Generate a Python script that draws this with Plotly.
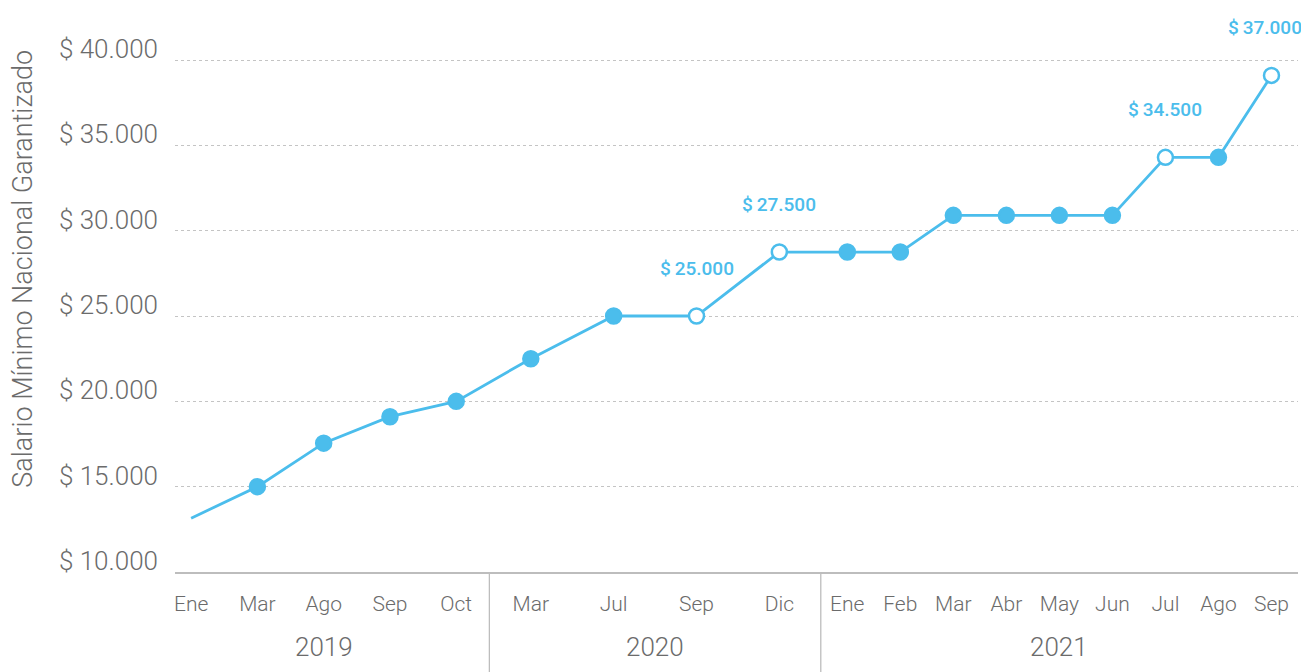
import plotly.graph_objects as go

# ---- data ----
months = ["Ene", "Mar", "Ago", "Sep", "Oct",
          "Mar", "Jul", "Sep", "Dic",
          "Ene", "Feb", "Mar", "Abr", "May", "Jun", "Jul", "Ago", "Sep"]
years = [2019] * 5 + [2020] * 4 + [2021] * 9
values = [13150, 15000, 17550, 19100, 20000,
          22500, 25000, 25000, 28750,
          28750, 28750, 30900, 30900, 30900, 30900, 34300, 34300, 39100]
# point style: "none", "filled", "open"
point_style = ["none", "filled", "filled", "filled", "filled",
               "filled", "filled", "open", "open",
               "filled", "filled", "filled", "filled", "filled", "filled", "open", "filled", "open"]
value_labels = {7: "$\u200925.000", 8: "$\u200927.500", 15: "$\u200934.500", 17: "$\u200937.000"}
year_list = [2019, 2020, 2021]
ytick_vals = [10000, 15000, 20000, 25000, 30000, 35000, 40000]
ytick_text = ["$ 10.000", "$ 15.000", "$ 20.000", "$ 25.000",
              "$ 30.000", "$ 35.000", "$ 40.000"]

# ---- layout constants ----
GROUP_WIDTH = {2019: 5.0, 2020: 5.0, 2021: 7.2}
BLUE = "#4BBDEC"
GREY = "#6b6b6b"
FONT = "Roboto"

# x positions: categories evenly spaced inside each year group
group_start = {}
acc = 0.0
for y in year_list:
    group_start[y] = acc
    acc += GROUP_WIDTH[y]
x_pos = []
for y in year_list:
    idx = [i for i, yy in enumerate(years) if yy == y]
    n = len(idx)
    for k, i in enumerate(idx):
        x_pos.append(group_start[y] + (k + 0.5) * GROUP_WIDTH[y] / n)

sizes = [0 if s == "none" else 15 for s in point_style]
fills = ["white" if s == "open" else BLUE for s in point_style]

fig = go.Figure()
fig.add_trace(go.Scatter(
    x=x_pos, y=values, mode="lines+markers",
    line=dict(color=BLUE, width=2.8),
    marker=dict(size=sizes, color=fills, opacity=1, line=dict(color=BLUE, width=2.5)),
    cliponaxis=False, hoverinfo="y", showlegend=False,
))

last = len(values) - 1
for i, txt in value_labels.items():
    fig.add_annotation(x=x_pos[i], y=values[i], text=txt, showarrow=False,
                       yshift=48, xshift=(-6 if i == last else 0),
                       font=dict(family=FONT, size=19, color=BLUE, weight=500))

# year labels
for y in year_list:
    fig.add_annotation(x=group_start[y] + GROUP_WIDTH[y] / 2, xref="x",
                       y=-0.146, yref="paper", yanchor="middle",
                       text=str(y), showarrow=False,
                       font=dict(family=FONT, size=26, color=GREY, weight=300))

# group dividers
for y in year_list[1:]:
    fig.add_shape(type="line", x0=group_start[y], x1=group_start[y], xref="x",
                  y0=0, y1=-0.22, yref="paper", line=dict(color="#bdbdbd", width=1.3))

# y-axis title
fig.add_annotation(x=0, xref="paper", xanchor="center", xshift=-152, y=0.59, yref="paper",
                   yanchor="middle",
                   text="Salario Mínimo Nacional Garantizado", textangle=-90,
                   showarrow=False, font=dict(family=FONT, size=27, color=GREY, weight=300))

fig.update_layout(
    width=1301, height=664,
    margin=dict(l=167, r=11, t=50, b=100),
    plot_bgcolor="white", paper_bgcolor="white",
    xaxis=dict(range=[0.257, 17.2], tickmode="array", tickvals=x_pos, ticktext=months,
               showgrid=False, zeroline=False, showline=True, linecolor="#bdbdbd", linewidth=1.5,
               ticks="", ticklabelstandoff=12,
               tickfont=dict(family=FONT, size=21, color=GREY, weight=300)),
    yaxis=dict(range=[10000, 40120], tickmode="array", tickvals=ytick_vals, ticktext=ytick_text,
               showgrid=True, gridcolor="#c4c4c4", griddash="dot", gridwidth=1,
               zeroline=False, showline=False, ticks="", ticklabelstandoff=16,
               ticklabelshift=-11,
               tickfont=dict(family=FONT, size=26, color=GREY, weight=300)),
    font=dict(family=FONT),
)

fig.write_html("out.html")
